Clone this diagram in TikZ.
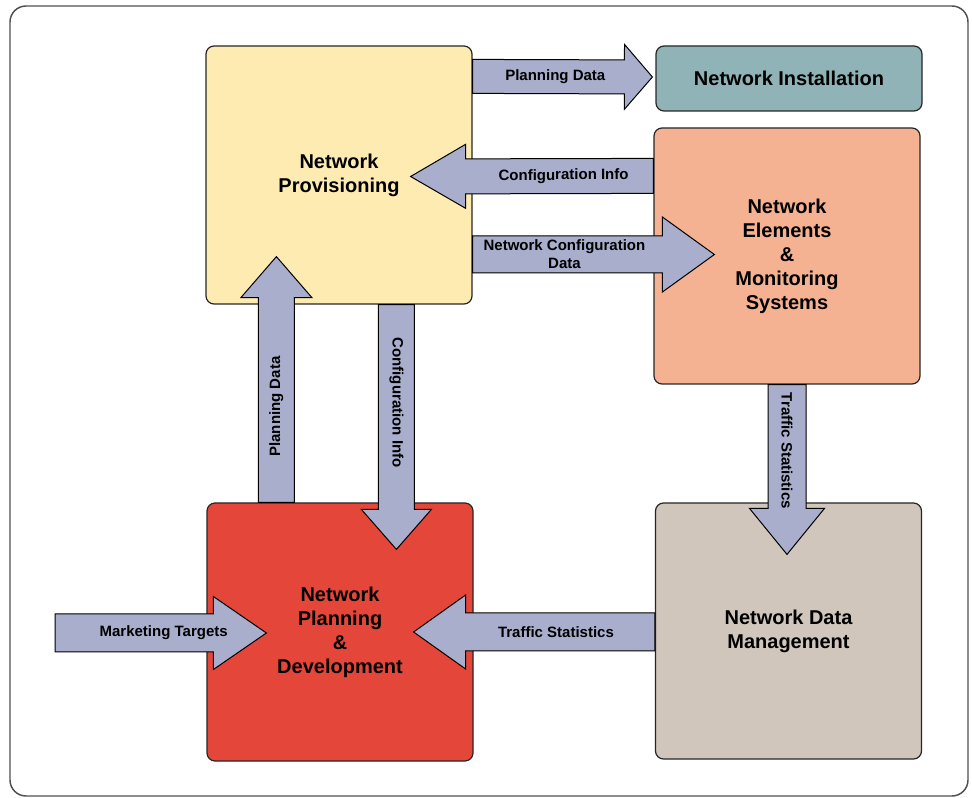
\documentclass[tikz,border=0pt]{standalone}
\usepackage{fontspec}
\setmainfont{Liberation Sans}
\usetikzlibrary{calc}
\definecolor{cyellow}{HTML}{FEEBB2}
\definecolor{cteal}{HTML}{8FB3B6}
\definecolor{csalmon}{HTML}{F5B292}
\definecolor{cred}{HTML}{E4463A}
\definecolor{cbeige}{HTML}{D0C6BB}
\definecolor{carrow}{HTML}{A8AECB}
\definecolor{cframe}{HTML}{505050}
\tikzset{
  box/.style={draw=black!85, line width=0.9pt, rounded corners=6pt, align=center,
    minimum width=199.5pt, font=\fontsize{15}{18}\selectfont\bfseries, inner sep=0pt},
  flowarrow/.style={draw=black, fill=carrow, line width=0.75pt, line join=miter},
  arrowlabel/.style={font=\fontsize{11.25}{13.3}\selectfont\bfseries, align=center, inner sep=0pt},
}
% #1 start, #2 tip, #3 shaft half width, #4 head half width, #5 head length (px), #6 label pos, #7 label
\newcommand\blockarrow[7]{%
  \coordinate (ba-b) at ($(#2)!#5*0.75pt!(#1)$);
  \draw[flowarrow] ($(#1)!#3*0.75pt!90:(#2)$) -- ($(ba-b)!#3*0.75pt!90:(#2)$)
    -- ($(ba-b)!#4*0.75pt!90:(#2)$) -- (#2) -- ($(ba-b)!#4*0.75pt!-90:(#2)$)
    -- ($(ba-b)!#3*0.75pt!-90:(#2)$) -- ($(#1)!#3*0.75pt!-90:(#2)$) -- cycle;
  \path (#1) -- (#2) node[pos=#6, sloped, arrowlabel] {#7};
}
\begin{document}
\begin{tikzpicture}[x=0.75pt, y=-0.75pt]
\useasboundingbox (0,0) rectangle (972,798);
\draw[cframe, line width=1.1pt, rounded corners=12pt] (10,6) rectangle (968,796);

\node[box, fill=cyellow, minimum height=193.5pt] (prov) at (339,175) {Network\\Provisioning};
\node[box, fill=cteal, minimum height=48.75pt] (inst) at (789,78.5) {Network Installation};
\node[box, fill=csalmon, minimum height=192pt] (elem) at (787,256) {Network\\Elements\\\&\\Monitoring\\Systems};
\node[box, fill=cred, minimum height=193.5pt] (plan) at (340,632) {Network\\Planning\\\&\\Development};
\node[box, fill=cbeige, minimum height=192pt] (ndm) at (788.5,631) {Network Data\\Management};

\coordinate (s1) at ($(prov.north east)+(0,31)$);
\coordinate (e1) at ($(inst.west)+(-3,-1.5)$);
\coordinate (s2) at ($(elem.north west)+(0,48.5)$);
\coordinate (e2) at ($(prov.east)+(-62,1.5)$);
\coordinate (s3) at ($(prov.east)+(0,79.5)$);
\coordinate (e3) at ($(elem.west)+(61,-1.5)$);
\coordinate (s4) at ($(plan.north west)+(70,0)$);
\coordinate (e4) at ($(prov.south west)+(71,-48)$);
\coordinate (s5) at ($(prov.south west)+(191,0)$);
\coordinate (e5) at ($(plan.north west)+(190,47)$);
\coordinate (s6) at (elem.south);
\coordinate (e6) at ($(ndm.north)+(-1.5,52)$);
\coordinate (s7) at ($(ndm.west)+(0,1)$);
\coordinate (e7) at ($(plan.east)+(-60,0)$);
\coordinate (s8) at (55,633);
\coordinate (e8) at ($(plan.west)+(60,1)$);

\blockarrow{s1}{e1}{17}{32.5}{28}{0.46}{Planning Data}
\blockarrow{s2}{e2}{17.5}{32}{55}{0.37}{Configuration Info}
\blockarrow{s3}{e3}{18.5}{37.5}{52}{0.38}{Network Configuration\\Data}
\blockarrow{s4}{e4}{18}{35.5}{41}{0.39}{Planning Data}
\blockarrow{s5}{e5}{18}{35}{40}{0.40}{Configuration Info}
\blockarrow{s6}{e6}{19}{37.5}{46}{0.39}{Traffic Statistics}
\blockarrow{s7}{e7}{19}{37}{52}{0.41}{Traffic Statistics}
\blockarrow{s8}{e8}{19}{36.5}{53}{0.514}{Marketing Targets}
\end{tikzpicture}
\end{document}
